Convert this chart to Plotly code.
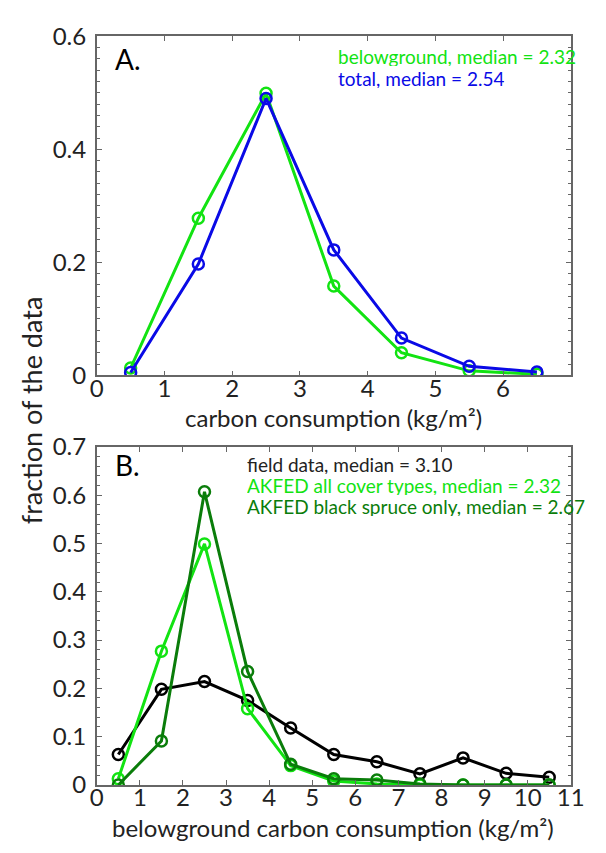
import plotly.graph_objects as go

# ---- data ----
bins_a = [0.5, 1.5, 2.5, 3.5, 4.5, 5.5, 6.5]
below_a = [0.013, 0.278, 0.499, 0.158, 0.040, 0.008, 0.002]
total_a = [0.005, 0.197, 0.490, 0.222, 0.066, 0.016, 0.006]

bins_b = [0.5, 1.5, 2.5, 3.5, 4.5, 5.5, 6.5, 7.5, 8.5, 9.5, 10.5]
field_b = [0.063, 0.198, 0.214, 0.175, 0.118, 0.063, 0.048, 0.023, 0.056, 0.024, 0.016]
akfed_all_b = [0.013, 0.277, 0.499, 0.158, 0.040, 0.008, 0.002, 0.0, 0.0, 0.0, 0.0]
akfed_bs_b = [0.0, 0.091, 0.607, 0.235, 0.043, 0.013, 0.010, 0.002, 0.0, 0.0, 0.0]

xticks_a = [0, 1, 2, 3, 4, 5, 6]
yticks_a = [0, 0.2, 0.4, 0.6]
ytext_a = ["0", "0.2", "0.4", "0.6"]
xticks_b = list(range(0, 12))
yticks_b = [0, 0.1, 0.2, 0.3, 0.4, 0.5, 0.6, 0.7]
ytext_b = ["0", "0.1", "0.2", "0.3", "0.4", "0.5", "0.6", "0.7"]

W, H = 606, 853
FONT = "Lato"
LIME = "#12e312"
BLUE = "#0a0ae6"
DKGREEN = "#0a7d0a"
AXC = "#666666"
TXT = "#222222"


def px(x):
    return x / W


def py(y):
    return 1 - y / H


fig = go.Figure()


def add_series(x, y, color, xa, ya):
    fig.add_trace(go.Scatter(
        x=x, y=y, mode="lines+markers", xaxis=xa, yaxis=ya,
        line=dict(color=color, width=3),
        marker=dict(symbol="circle-open", size=11, color=color, line=dict(width=2.5, color=color)),
        showlegend=False, hoverinfo="skip"))


add_series(bins_a, below_a, LIME, "x", "y")
add_series(bins_a, total_a, BLUE, "x", "y")
add_series(bins_b, field_b, "black", "x2", "y2")
add_series(bins_b, akfed_all_b, LIME, "x2", "y2")
add_series(bins_b, akfed_bs_b, DKGREEN, "x2", "y2")

tickfont = dict(family=FONT, size=24, color=TXT)
common_ax = dict(showline=True, linecolor=AXC, linewidth=1.5, mirror="allticks",
                 ticks="inside", ticklen=5, tickcolor=AXC, tickwidth=1,
                 showgrid=False, zeroline=False, tickfont=tickfont)
minor_y = dict(ticks="inside", ticklen=3, tickcolor=AXC, dtick=0.02, showgrid=False)

fig.update_layout(
    width=W, height=H, margin=dict(l=0, r=0, t=0, b=0),
    paper_bgcolor="white", plot_bgcolor="white",
    xaxis=dict(domain=[px(93), px(584)], range=[0, 7], anchor="y",
               tickvals=xticks_a, ticktext=[str(v) for v in xticks_a],
               ticklabelstandoff=-9, **common_ax),
    yaxis=dict(domain=[py(372), py(21)], range=[0, 0.6], anchor="x",
               tickvals=yticks_a, ticktext=ytext_a, minor=minor_y,
               ticklabelstandoff=4, **common_ax),
    xaxis2=dict(domain=[px(93), px(584)], range=[0, 11], anchor="y2",
                tickvals=xticks_b, ticktext=[str(v) for v in xticks_b],
                ticklabelstandoff=-9, **common_ax),
    yaxis2=dict(domain=[py(796), py(446)], range=[0, 0.7], anchor="x2",
                tickvals=yticks_b, ticktext=ytext_b, minor=minor_y,
                ticklabelstandoff=4, **common_ax),
)


def note(text, x, y, size, color, xanchor="left", angle=0, height=None):
    fig.add_annotation(text=text, x=px(x), y=py(y), xref="paper", yref="paper",
                       xanchor=xanchor, yanchor="middle", showarrow=False, textangle=angle,
                       height=height, font=dict(family=FONT, size=size, color=color))


note("A.", 110, 44, 28, "black")
note("belowground, median = 2.32", 341, 41, 19, LIME, height=20)
note("total, median = 2.54", 341, 64, 19, BLUE, height=20)
note("B.", 110, 465, 28, "black")
note("field data, median = 3.10", 247, 464, 19, TXT, height=20)
note("AKFED all cover types, median = 2.32", 247, 485, 19, LIME, height=20)
note("AKFED black spruce only, median = 2.67", 247, 507, 19, DKGREEN, height=20)

note("carbon consumption (kg/m²)", 338, 416, 24, TXT, xanchor="center")
note("belowground carbon consumption (kg/m²)", 338, 840, 24, TXT, xanchor="center")
note("fraction of the data", 25, 408, 27, TXT, xanchor="center", angle=-90)

fig.write_html("out.html")
